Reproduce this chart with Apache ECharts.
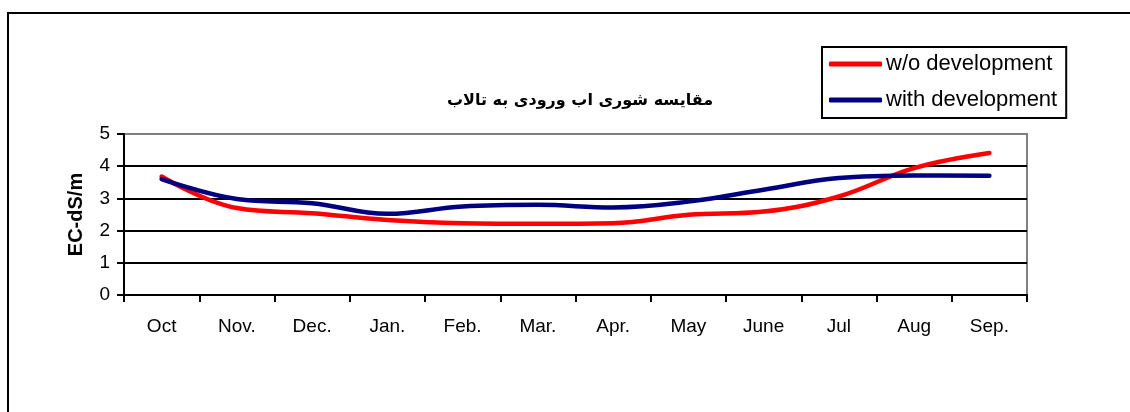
<!DOCTYPE html>
<html>
<head>
<meta charset="utf-8">
<script src="https://cdn.jsdelivr.net/npm/echarts@6/dist/echarts.min.js"></script>
<style>
  html, body { margin: 0; padding: 0; background: #fff; }
  #chart { width: 1130px; height: 412px; }
</style>
</head>
<body>
<div id="chart"></div>
<script>
// months on the x axis
var months = ['Oct', 'Nov.', 'Dec.', 'Jan.', 'Feb.', 'Mar.', 'Apr.', 'May', 'June', 'Jul', 'Aug', 'Sep.']
// EC values (dS/m)
var withoutDev = [3.68, 2.70, 2.54, 2.33, 2.23, 2.21, 2.23, 2.49, 2.59, 3.06, 3.94, 4.41]
var withDev = [3.60, 2.98, 2.85, 2.52, 2.75, 2.80, 2.72, 2.90, 3.27, 3.63, 3.71, 3.70]
var yTicks = [0, 1, 2, 3, 4, 5]

var font = 'Arial, "Liberation Sans", sans-serif'

var option = {
  animation: false,
  backgroundColor: '#fff',
  title: {
    text: 'مقایسه شوری اب ورودی به تالاب',
    left: 580,
    top: 93,
    textAlign: 'center',
    padding: 0,
    textStyle: {
      fontFamily: '"DejaVu Sans", sans-serif',
      fontSize: 16,
      fontWeight: 'bold',
      color: '#000'
    }
  },
  legend: {
    orient: 'vertical',
    left: 822,
    top: 47,
    padding: [5, 9, 6, 7],
    itemGap: 12,
    itemWidth: 53,
    itemHeight: 5,
    icon: 'roundRect',
    borderColor: '#000',
    borderWidth: 2,
    data: ['w/o development', 'with development'],
    textStyle: {
      fontFamily: font,
      fontSize: 22,
      lineHeight: 24,
      color: '#000',
      padding: [0, 0, 0, -1]
    }
  },
  grid: {
    show: true,
    left: 124,
    right: 103,
    top: 134,
    bottom: 117,
    borderColor: '#808080',
    borderWidth: 2
  },
  xAxis: {
    type: 'category',
    boundaryGap: true,
    data: months,
    axisLine: { show: true, lineStyle: { color: '#000', width: 2 } },
    axisTick: { show: true, alignWithLabel: false, length: 7, lineStyle: { color: '#000', width: 2 } },
    axisLabel: { color: '#000', fontFamily: font, fontSize: 19, margin: 22, interval: 0 },
    splitLine: { show: false }
  },
  yAxis: {
    type: 'value',
    min: yTicks[0],
    max: yTicks[yTicks.length - 1],
    interval: 1,
    name: 'EC-dS/m',
    nameLocation: 'middle',
    nameGap: 38,
    nameTextStyle: { color: '#000', fontFamily: font, fontSize: 20, fontWeight: 'bold' },
    axisLine: { show: true, lineStyle: { color: '#000', width: 2 } },
    axisTick: { show: true, length: 7, lineStyle: { color: '#000', width: 2 } },
    axisLabel: { color: '#000', fontFamily: font, fontSize: 19, margin: 14 },
    splitLine: { show: true, showMaxLine: false, lineStyle: { color: '#000', width: 2 } }
  },
  series: [
    {
      name: 'w/o development',
      type: 'line',
      smooth: 0.4,
      symbol: 'none',
      data: withoutDev,
      lineStyle: { color: '#ff0000', width: 4.5, cap: 'round' },
      itemStyle: { color: '#ff0000' },
      z: 3
    },
    {
      name: 'with development',
      type: 'line',
      smooth: 0.4,
      symbol: 'none',
      data: withDev,
      lineStyle: { color: '#000080', width: 4.5, cap: 'round' },
      itemStyle: { color: '#000080' },
      z: 4
    }
  ],
  graphic: [{
    type: 'rect',
    silent: true,
    shape: { x: 8, y: 13, width: 1300, height: 600 },
    style: { fill: 'none', stroke: '#000', lineWidth: 2 }
  }]
}

var myChart = echarts.init(document.getElementById('chart'))
myChart.setOption(option)
</script>
</body>
</html>
